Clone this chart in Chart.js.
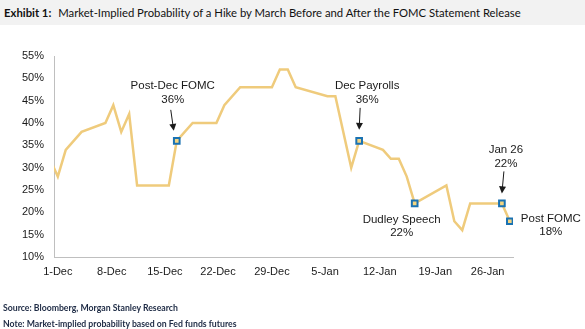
<!DOCTYPE html>
<html>
<head>
<meta charset="utf-8">
<script src="https://cdn.jsdelivr.net/npm/chart.js@4"></script>
<style>
  html, body { margin: 0; padding: 0; background: #fff; }
  body { width: 585px; height: 329px; position: relative; overflow: hidden; }
  #title {
    position: absolute; left: 0; top: 0; width: 585px; height: 25px;
    background: #f2f2f2; font-family: Lato, "Open Sans", sans-serif;
    font-size: 11.3px; line-height: 25px; color: #111; padding-left: 4px; box-sizing: border-box;
    white-space: nowrap;
  }
  #title b { font-weight: bold; margin-right: 4px; }
  #wrap { position: absolute; left: 0; top: 0; width: 585px; height: 329px; }
  .foot {
    position: absolute; left: 3px; font-family: Lato, "Open Sans", sans-serif;
    font-size: 8.7px; font-weight: bold; color: #1d2a44; white-space: nowrap;
  }
</style>
</head>
<body>
<div id="wrap"><canvas id="chart" width="585" height="329"></canvas></div>
<div id="title"><b>Exhibit 1:</b> Market-Implied Probability of a Hike by March Before and After the FOMC Statement Release</div>
<div class="foot" style="top:302px">Source: Bloomberg, Morgan Stanley Research</div>
<div class="foot" style="top:318px">Note: Market-implied probability based on Fed funds futures</div>
<script>
// --- data ---
const dates = [
  '2015-11-30', '2015-12-01', '2015-12-02', '2015-12-04', '2015-12-07', '2015-12-08',
  '2015-12-09', '2015-12-10', '2015-12-11', '2015-12-15', '2015-12-16', '2015-12-18',
  '2015-12-21', '2015-12-22', '2015-12-24', '2015-12-28', '2015-12-29', '2015-12-30',
  '2015-12-31', '2016-01-04', '2016-01-05', '2016-01-07', '2016-01-08', '2016-01-11',
  '2016-01-12', '2016-01-13', '2016-01-14', '2016-01-15', '2016-01-19', '2016-01-20',
  '2016-01-21', '2016-01-22', '2016-01-26', '2016-01-27'
];
const probability = [
  32, 28, 34, 38, 40, 44,
  38, 42, 26, 26, 36, 40,
  40, 44, 48, 48, 52, 52,
  48, 46, 46, 30, 36, 34,
  32, 32, 28, 22, 26, 18,
  16, 22, 22, 18
];
const tickLabels = ['1-Dec', '8-Dec', '15-Dec', '22-Dec', '29-Dec', '5-Jan', '12-Jan', '19-Jan', '26-Jan'];
const tickDays = [0, 6.8, 13.5, 20.2, 27, 33.7, 40.6, 47.6, 54.2];
const yTicks = [10, 15, 20, 25, 30, 35, 40, 45, 50, 55];

// highlighted events
const eventDates = ['2015-12-16', '2016-01-08', '2016-01-15', '2016-01-26', '2016-01-27'];
const eventNames = ['Post-Dec FOMC', 'Dec Payrolls', 'Dudley Speech', 'Jan 26', 'Post FOMC'];

const DAY0 = Date.UTC(2015, 11, 1);
function dayNum(s) {
  const [y, m, d] = s.split('-').map(Number);
  return (Date.UTC(y, m - 1, d) - DAY0) / 86400000;
}

const points = dates.map((d, i) => ({ x: dayNum(d), y: probability[i] }));
const isEvent = dates.map(d => eventDates.includes(d));

const LINE = '#efcb7c';
const BLUE = '#1a72b2';
const FONT = '"Liberation Sans", Arial, sans-serif';

// label layout per event, offsets in px from the marker
const labelLayout = [
  { dx: -4, dy: -55, pdx: -4, pdy: -41, align: 'center', arrow: [-6, -31, -3, -10] },
  { dx: 8, dy: -55, pdx: 8, pdy: -41, align: 'center', arrow: [1, -33, 0, -11] },
  { dx: -13, dy: 16, pdx: -13, pdy: 29, align: 'center', arrow: null },
  { dx: 4, dy: -54, pdx: 4, pdy: -40, align: 'center', arrow: [2, -32, 0, -10] },
  { dx: 11, dy: -2, pdx: 41, pdy: 11, align: 'left', arrow: null }
];

const annotations = {
  id: 'annotations',
  afterDatasetsDraw(chart) {
    const { ctx, scales: { x, y } } = chart;
    ctx.save();
    ctx.fillStyle = '#1a1a1a';
    ctx.strokeStyle = '#1a1a1a';
    ctx.font = '11.5px ' + FONT;
    ctx.textBaseline = 'middle';
    eventDates.forEach((d, k) => {
      const i = dates.indexOf(d);
      const px = x.getPixelForValue(points[i].x);
      const py = y.getPixelForValue(points[i].y);
      const L = labelLayout[k];
      ctx.textAlign = L.align;
      ctx.fillText(eventNames[k], px + L.dx, py + L.dy);
      ctx.textAlign = 'center';
      ctx.fillText(probability[i] + '%', px + L.pdx, py + L.pdy);
      if (L.arrow) {
        const [x1, y1, x2, y2] = L.arrow;
        const ax = px + x1, ay = py + y1, bx = px + x2, by = py + y2;
        const ang = Math.atan2(by - ay, bx - ax);
        ctx.lineWidth = 1;
        ctx.beginPath();
        ctx.moveTo(ax, ay);
        ctx.lineTo(bx - 5 * Math.cos(ang), by - 5 * Math.sin(ang));
        ctx.stroke();
        ctx.beginPath();
        ctx.moveTo(bx, by);
        ctx.lineTo(bx - 7 * Math.cos(ang) + 3.5 * Math.sin(ang), by - 7 * Math.sin(ang) - 3.5 * Math.cos(ang));
        ctx.lineTo(bx - 7 * Math.cos(ang) - 3.5 * Math.sin(ang), by - 7 * Math.sin(ang) + 3.5 * Math.cos(ang));
        ctx.closePath();
        ctx.fill();
      }
    });
    ctx.restore();
  }
};

new Chart(document.getElementById('chart'), {
  type: 'line',
  data: {
    datasets: [{
      data: points,
      borderColor: LINE,
      borderWidth: 2.5,
      tension: 0,
      pointStyle: 'rect',
      pointRadius: isEvent.map(e => e ? 4 : 0),
      pointBorderWidth: 2,
      pointBorderColor: BLUE,
      pointBackgroundColor: '#f3d480'
    }]
  },
  options: {
    responsive: false,
    animation: false,
    layout: { padding: { left: 0, top: 56, right: 72, bottom: 50 } },
    plugins: { legend: { display: false }, tooltip: { enabled: false } },
    scales: {
      x: {
        type: 'linear',
        min: -0.48,
        max: 57.4,
        afterBuildTicks: axis => { axis.ticks = tickDays.map(v => ({ value: v })); },
        afterFit: axis => { axis.height = 22; },
        ticks: {
          autoSkip: false,
          maxRotation: 0,
          padding: 8,
          color: '#1a1a1a',
          font: { family: FONT, size: 11 },
          callback: (v, i) => tickLabels[i]
        },
        grid: { display: false, drawTicks: false },
        border: { color: '#bfbfbf', width: 1 }
      },
      y: {
        min: 10,
        max: 55,
        afterBuildTicks: axis => { axis.ticks = yTicks.map(v => ({ value: v })); },
        afterFit: axis => { axis.width = 54; },
        ticks: {
          padding: 10,
          color: '#1a1a1a',
          font: { family: FONT, size: 11 },
          callback: v => v + '%'
        },
        grid: { display: false, drawTicks: false },
        border: { color: '#bfbfbf', width: 1 }
      }
    }
  },
  plugins: [annotations]
});
</script>
</body>
</html>
